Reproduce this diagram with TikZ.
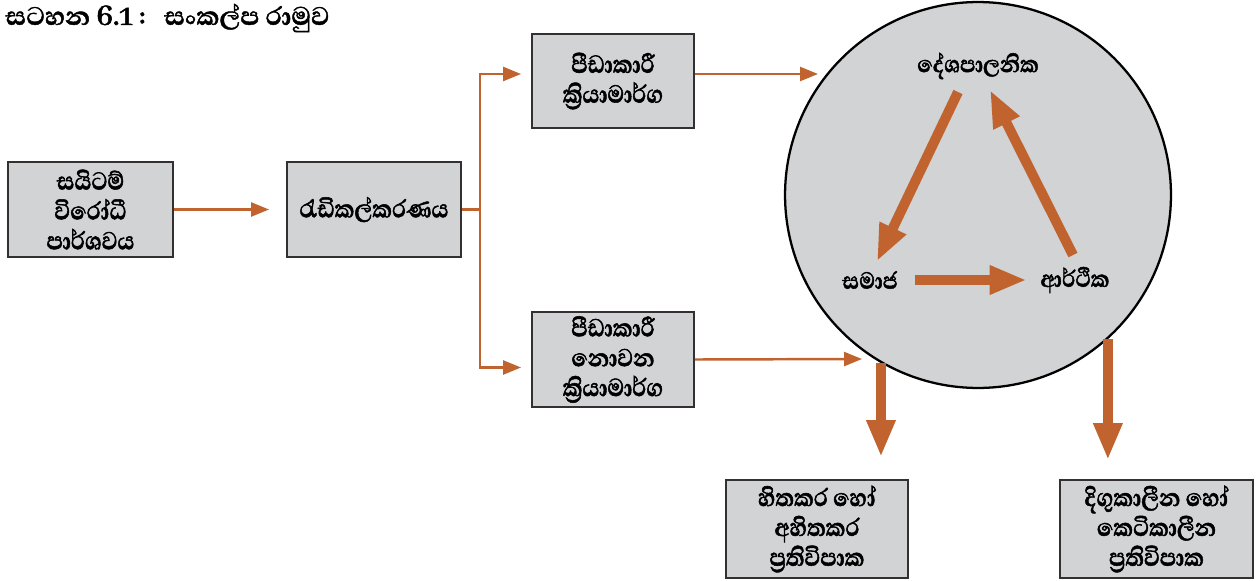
\documentclass[tikz,border=0pt]{standalone}
\usepackage{fontspec}
\newfontfamily\sinhalafont[Script=Sinhala, FakeStretch=0.88, FakeBold=1.6]{Abhaya Libre}
\newfontfamily\sinhalatitle[Script=Sinhala, FakeBold=1.4]{Abhaya Libre}
\usepackage{xcolor}
\definecolor{rust}{RGB}{192,99,47}
\definecolor{panelgray}{RGB}{209,211,212}
\definecolor{edgegray}{RGB}{50,48,48}
\usetikzlibrary{arrows.meta, positioning, calc}
\tikzset{
  box/.style={
    rectangle, draw=edgegray, line width=1.1pt, fill=panelgray,
    minimum height=1.9cm, inner sep=2pt,
    align=center, font=\sinhalafont\bfseries\fontsize{18}{17}\selectfont
  },
  ringlabel/.style={
    inner sep=2pt, font=\sinhalafont\bfseries\fontsize{17}{16}\selectfont
  },
  thinarrow/.style={line width=1.4pt, rust, -{Triangle[length=0.36cm,width=0.28cm]}},
  thinline/.style={line width=1.4pt, rust},
  bigarrow/.style={line width=0.2cm, rust, -{Triangle[length=0.74cm,width=0.54cm]}},
}

\begin{document}
\begin{tikzpicture}[x=0.02cm, y=-0.02cm]
  \useasboundingbox (0,0) rectangle (1260,581);

  % title
  \node (title) [anchor=west, inner sep=0pt, font=\sinhalatitle\bfseries\fontsize{18.5}{20}\selectfont]
    at (5,18) {සටහන 6.1\ :\ \ \ සංකල්ප රාමුව};

  % left chain
  \node (opp)     [box, minimum width=3.3cm]  at (90.5,209.5) {සයිටම්\\විරෝධී\\පාර්ශවය};
  \node (radical) [box, minimum width=3.48cm] at (374,209.5)  {රැඩිකල්කරණය};
  \node (oppr)    [box, minimum width=3.24cm, minimum height=1.88cm] at (613,81) {පීඩාකාරී\\ක්‍රියාමාර්ග};
  \node (nonoppr) [box, minimum width=3.24cm] at (613,359.5) {පීඩාකාරී\\නොවන\\ක්‍රියාමාර්ග};

  % circle with the three spheres
  \node (ring) [circle, draw=black, line width=1.3pt, fill=panelgray, minimum size=7.72cm] at (978,195) {};
  \node (pol) [ringlabel] at (978,66)  {දේශපාලනික};
  \node (soc) [ringlabel] at (870,280) {සමාජ};
  \node (eco) [ringlabel] at (1075,280) {ආර්ථික};

  % outcomes
  \node (resA) [box, minimum width=3.64cm, minimum height=1.96cm] at (817,529)    {හිතකර හෝ\\අහිතකර\\ප්‍රතිවිපාක};
  \node (resB) [box, minimum width=3.86cm, minimum height=1.96cm] at (1156.5,529) {දිගුකාලීන හෝ\\කෙටිකාලීන\\ප්‍රතිවිපාක};

  \coordinate (tipA) at (818,74);
  \coordinate (tipB) at (862,359);

  \draw [thinarrow, shorten >=0.34cm] (opp) -- (radical);
  \draw [thinline] (radical.east) -- ++(18,0) coordinate (jn);
  \draw [thinarrow, shorten >=0.2cm] (jn) |- ($(oppr.west)+(0,-7)$);
  \draw [thinarrow, shorten >=0.2cm] (jn) |- ($(nonoppr.west)+(0,8)$);
  \draw [thinarrow] ($(oppr.east)+(0,-7)$) -- (tipA);
  \draw [thinarrow] (nonoppr.east) -- (tipB);

  \draw [bigarrow] ($(pol.south)+(-20,9)$) -- ($(soc.north)+(7,-6)$);
  \draw [bigarrow] ($(eco.north)+(-2,-8)$) -- ($(pol.south)+(12,7)$);
  \draw [bigarrow] ($(soc.east)+(13,0)$) -- ($(eco.west)+(-10,0)$);

  \draw [bigarrow, shorten >=0.44cm] (ring.240) -- (ring.240 |- resA.north);
  \draw [bigarrow, shorten >=0.38cm] (ring.-48) -- (ring.-48 |- resB.north);
\end{tikzpicture}
\end{document}
